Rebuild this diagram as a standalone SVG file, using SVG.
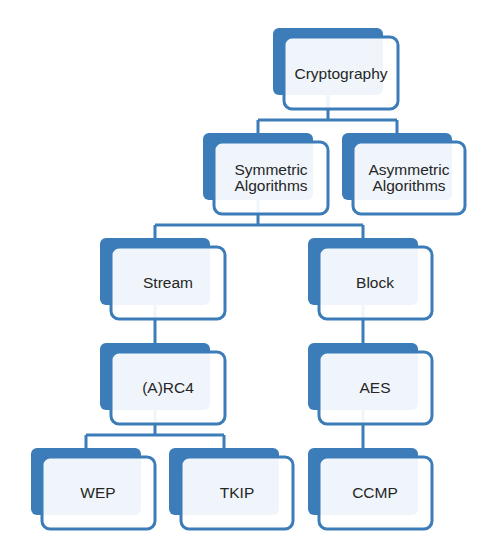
<svg xmlns="http://www.w3.org/2000/svg" width="504" height="553" viewBox="0 0 504 553">
<style>
.bk{fill:#3b7cb9}
.fr{fill:#ffffff;fill-opacity:0.92;stroke:#3b7cb9;stroke-width:3}
.tx{font-family:"Liberation Sans",Arial,sans-serif;font-size:15.5px;fill:#262626;text-anchor:middle}
.cn{fill:none;stroke:#3b7cb9;stroke-width:3}
</style>
<rect width="504" height="553" fill="#ffffff"/>
<g id="connectors">
<path class="cn" d="M328 95 V120 M258 120 H397 M258 120 V140 M397 120 V140"/>
<path class="cn" d="M258 200 V225 M155 225 H363 M155 225 V245 M363 225 V245"/>
<path class="cn" d="M155 305 V350"/>
<path class="cn" d="M363 305 V350"/>
<path class="cn" d="M155 410 V435 M86 435 H224 M86 435 V455 M224 435 V455"/>
<path class="cn" d="M363 410 V455"/>
</g>
<g id="cryptography">
<rect class="bk" x="273" y="28" width="110" height="67" rx="6"/>
<rect class="fr" x="284" y="37" width="114" height="72" rx="8"/>
<text class="tx" x="341" y="79">Cryptography</text>
</g>
<g id="symmetric">
<rect class="bk" x="203" y="133" width="110" height="67" rx="6"/>
<rect class="fr" x="214" y="142" width="114" height="72" rx="8"/>
<text class="tx" x="271" y="175">Symmetric</text>
<text class="tx" x="271" y="191">Algorithms</text>
</g>
<g id="asymmetric">
<rect class="bk" x="342" y="133" width="110" height="67" rx="6"/>
<rect class="fr" x="353" y="142" width="112" height="72" rx="8"/>
<text class="tx" x="409" y="175">Asymmetric</text>
<text class="tx" x="409" y="191">Algorithms</text>
</g>
<g id="stream">
<rect class="bk" x="100" y="238" width="110" height="67" rx="6"/>
<rect class="fr" x="111" y="247" width="114" height="72" rx="8"/>
<text class="tx" x="168" y="288">Stream</text>
</g>
<g id="block">
<rect class="bk" x="308" y="238" width="110" height="67" rx="6"/>
<rect class="fr" x="319" y="247" width="113" height="72" rx="8"/>
<text class="tx" x="375" y="288">Block</text>
</g>
<g id="arc4">
<rect class="bk" x="100" y="343" width="110" height="67" rx="6"/>
<rect class="fr" x="111" y="352" width="114" height="72" rx="8"/>
<text class="tx" x="168" y="393">(A)RC4</text>
</g>
<g id="aes">
<rect class="bk" x="308" y="343" width="110" height="67" rx="6"/>
<rect class="fr" x="319" y="352" width="113" height="72" rx="8"/>
<text class="tx" x="375" y="393">AES</text>
</g>
<g id="wep">
<rect class="bk" x="31" y="448" width="110" height="67" rx="6"/>
<rect class="fr" x="42" y="457" width="113" height="72" rx="8"/>
<text class="tx" x="98" y="498">WEP</text>
</g>
<g id="tkip">
<rect class="bk" x="169" y="448" width="110" height="67" rx="6"/>
<rect class="fr" x="181" y="457" width="112" height="72" rx="8"/>
<text class="tx" x="237" y="498">TKIP</text>
</g>
<g id="ccmp">
<rect class="bk" x="308" y="448" width="110" height="67" rx="6"/>
<rect class="fr" x="319" y="457" width="113" height="72" rx="8"/>
<text class="tx" x="375" y="498">CCMP</text>
</g>
</svg>
